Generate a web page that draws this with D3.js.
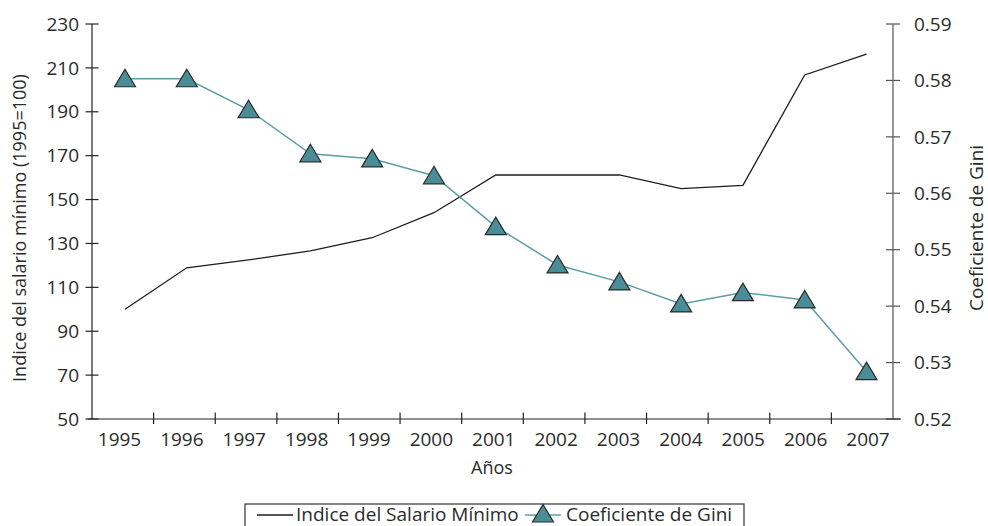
<!DOCTYPE html>
<html>
<head>
<meta charset="utf-8">
<script src="https://cdn.jsdelivr.net/npm/d3@7"></script>
<style>
  body { margin: 0; background: #fff; }
  text { font-family: "Open Sans", sans-serif; fill: #2b2b2b; }
</style>
</head>
<body>
<svg width="988" height="526"></svg>
<script>
var years = ["1995", "1996", "1997", "1998", "1999", "2000", "2001", "2002", "2003", "2004", "2005", "2006", "2007"];
var salario = [100, 118.9, 122.5, 126.6, 132.6, 144, 161.2, 161.2, 161.2, 155, 156.5, 206.8, 216.3];
var gini = [0.5803, 0.5803, 0.5748, 0.5670, 0.5661, 0.5631, 0.5541, 0.5473, 0.5443, 0.5404, 0.5424, 0.5411, 0.5284];
var leftTicks = [50, 70, 90, 110, 130, 150, 170, 190, 210, 230];
var rightTicks = [0.52, 0.53, 0.54, 0.55, 0.56, 0.57, 0.58, 0.59];

var svg = d3.select("svg"),
    mLeft = 92, mRight = 893, mTop = 24, mBottom = 419;

var xBand = d3.scaleBand().domain(years).range([mLeft, mRight]),
    xPt = d3.scalePoint().domain(years).range([125, 866.5]),
    xLab = d3.scalePoint().domain(years).range([119.5, 868]),
    yL = d3.scaleLinear().domain([50, 230]).range([mBottom, mTop]),
    yR = d3.scaleLinear().domain([0.52, 0.59]).range([mBottom, mTop]);

var teal = "#4a8d96", tealLine = "#5b9ea7";
var tri = "M0,-9.5L10.5,8L-10.5,8Z";

// left axis
var gl = svg.append("g");
gl.append("line").attr("x1", mLeft).attr("x2", mLeft).attr("y1", mTop).attr("y2", mBottom)
    .attr("stroke", "#222").attr("stroke-width", 1.2);
gl.selectAll(".t").data(leftTicks).enter().append("line")
    .attr("x1", mLeft - 6.5).attr("x2", mLeft + 6.5)
    .attr("y1", function(d) { return yL(d); }).attr("y2", function(d) { return yL(d); })
    .attr("stroke", "#222").attr("stroke-width", 1.2);
gl.selectAll(".l").data(leftTicks).enter().append("text")
    .attr("x", 79).attr("y", function(d) { return yL(d); }).attr("dy", "0.35em")
    .attr("text-anchor", "end").style("font-size", "19px")
    .text(function(d) { return d; });

// right axis
var gr = svg.append("g");
gr.append("line").attr("x1", mRight).attr("x2", mRight).attr("y1", mTop).attr("y2", mBottom)
    .attr("stroke", "#555").attr("stroke-width", 1.2);
gr.selectAll(".t").data(rightTicks).enter().append("line")
    .attr("x1", mRight - 7).attr("x2", mRight + 7)
    .attr("y1", function(d) { return yR(d); }).attr("y2", function(d) { return yR(d); })
    .attr("stroke", "#555").attr("stroke-width", 1.2);
gr.selectAll(".l").data(rightTicks).enter().append("text")
    .attr("x", 914).attr("y", function(d) { return yR(d); }).attr("dy", "0.35em")
    .style("font-size", "19px")
    .text(function(d) { return d.toFixed(2); });

// x axis
var gx = svg.append("g");
gx.append("line").attr("x1", mLeft - 4).attr("x2", mRight + 8).attr("y1", mBottom).attr("y2", mBottom)
    .attr("stroke", "#222").attr("stroke-width", 1.2);
gx.selectAll(".t").data(years.slice(1)).enter().append("line")
    .attr("x1", function(d) { return xBand(d); }).attr("x2", function(d) { return xBand(d); })
    .attr("y1", mBottom - 6.5).attr("y2", mBottom + 5)
    .attr("stroke", "#222").attr("stroke-width", 1.2);
gx.selectAll(".l").data(years).enter().append("text")
    .attr("x", function(d) { return xLab(d); }).attr("y", 446)
    .attr("text-anchor", "middle").style("font-size", "19px")
    .text(function(d) { return d; });

// titles
svg.append("text").attr("x", 492).attr("y", 474).attr("text-anchor", "middle")
    .style("font-size", "18px").text("Años");
svg.append("text").attr("transform", "translate(26,228) rotate(-90)").attr("text-anchor", "middle")
    .style("font-size", "18px").text("Indice del salario mínimo (1995=100)");
svg.append("text").attr("transform", "translate(983,228) rotate(-90)").attr("text-anchor", "middle")
    .style("font-size", "19px").text("Coeficiente de Gini");

// salario line
var lineL = d3.line()
    .x(function(d, i) { return xPt(years[i]); })
    .y(function(d) { return yL(d); });
svg.append("path").datum(salario).attr("d", lineL)
    .attr("fill", "none").attr("stroke", "#1e1e1e").attr("stroke-width", 1.3);

// gini line + markers
var lineR = d3.line()
    .x(function(d, i) { return xPt(years[i]); })
    .y(function(d) { return yR(d); });
svg.append("path").datum(gini).attr("d", lineR)
    .attr("fill", "none").attr("stroke", tealLine).attr("stroke-width", 1.5);
svg.selectAll(".tri").data(gini).enter().append("path")
    .attr("d", tri)
    .attr("transform", function(d, i) { return "translate(" + xPt(years[i]) + "," + yR(d) + ")"; })
    .attr("fill", teal).attr("stroke", "#2a2a2a").attr("stroke-width", 1.2);

// legend
var lg = svg.append("g");
lg.append("rect").attr("x", 245).attr("y", 504).attr("width", 499).attr("height", 40)
    .attr("fill", "#fff").attr("stroke", "#333").attr("stroke-width", 1.2);
lg.append("line").attr("x1", 257).attr("x2", 293).attr("y1", 515).attr("y2", 515)
    .attr("stroke", "#1e1e1e").attr("stroke-width", 1.3);
lg.append("text").attr("x", 296).attr("y", 521).style("font-size", "19px").text("Indice del Salario Mínimo");
lg.append("line").attr("x1", 525).attr("x2", 561).attr("y1", 515).attr("y2", 515)
    .attr("stroke", tealLine).attr("stroke-width", 1.5);
lg.append("path").attr("d", tri).attr("transform", "translate(543,514)")
    .attr("fill", teal).attr("stroke", "#2a2a2a").attr("stroke-width", 1.2);
lg.append("text").attr("x", 566).attr("y", 521).style("font-size", "19px").text("Coeficiente de Gini");
</script>
</body>
</html>
